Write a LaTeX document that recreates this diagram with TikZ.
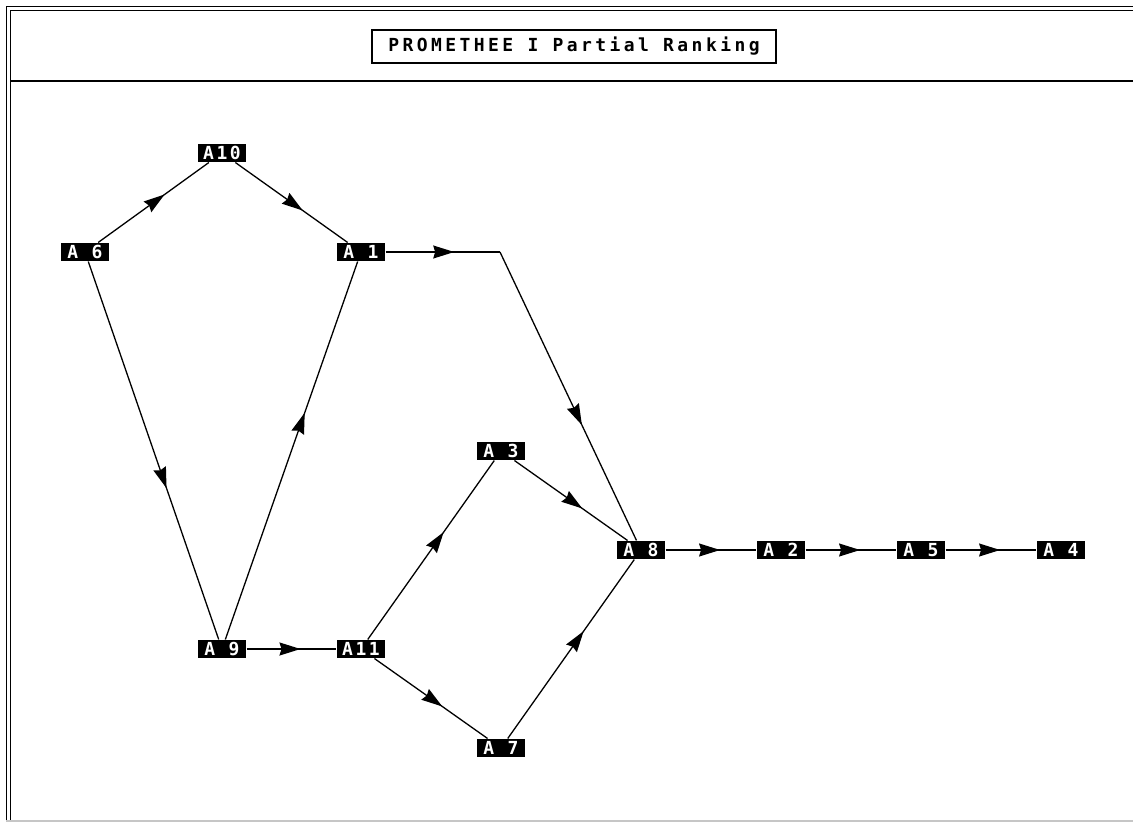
\documentclass[tikz,border=0pt]{standalone}
\usepackage{fontspec}
\usetikzlibrary{arrows.meta, decorations.markings}
\newfontfamily\boxfont[LetterSpace=14]{DejaVu Sans Mono}
\newfontfamily\titlefont[LetterSpace=19]{DejaVu Sans Mono}
\tikzset{
	alt/.style={fill=black, text=white, inner sep=0pt, minimum width=48, minimum height=18,
		font=\boxfont\bfseries\fontsize{18}{18}\selectfont},
	titlebox/.style={draw, line width=1.5, inner sep=0pt, minimum width=404, minimum height=33,
		font=\titlefont\bfseries\fontsize{18}{18}\selectfont},
	flow/.style={line width=1.3, postaction={decorate},
		decoration={markings, mark=at position 0.6 with {\arrow{Stealth[length=21pt, width=13pt, inset=2pt]}}}}
}

\begin{document}
\begin{tikzpicture}[x=1pt, y=-1pt, line width=1.05]

	\useasboundingbox (0,0) rectangle (1133,822);

	% frame of the window
	\draw[line width=1.5] (6.5,822) -- (6.5,6.5) -- (1133,6.5);
	\draw[line width=1.5] (10.5,822) -- (10.5,10.5) -- (1133,10.5);
	\draw[line width=2] (10.5,80.5) -- (1133,80.5);
	\draw[gray!45, line width=1.5] (6,821) -- (1133,821);

	\node[titlebox] (title) at (574,46.5) {PROMETHEE I Partial Ranking};

	% alternatives
	\node[alt] (a10) at (222,153) {A10};
	\node[alt] (a6)  at ( 85,252) {A 6};
	\node[alt] (a1)  at (361,252) {A 1};
	\node[alt] (a3)  at (501,451) {A 3};
	\node[alt] (a8)  at (641,550) {A 8};
	\node[alt] (a2)  at (781,550) {A 2};
	\node[alt] (a5)  at (921,550) {A 5};
	\node[alt] (a4)  at (1061,550) {A 4};
	\node[alt] (a9)  at (222,649) {A 9};
	\node[alt] (a11) at (361,649) {A11};
	\node[alt] (a7)  at (501,748) {A 7};

	\coordinate (bend) at (500,252);

	% outranking relations
	\draw[flow] (a6) -- (a10);
	\draw[flow] (a10) -- (a1);
	\draw[flow] (a6) -- (a9);
	\draw[flow] (a9) -- (a1);
	\draw[flow] (a9) -- (a11);
	\draw[flow] (a1) -- (bend);
	\draw[flow] (bend) -- (a8);
	\draw[flow] (a11) -- (a3);
	\draw[flow] (a11) -- (a7);
	\draw[flow] (a3) -- (a8);
	\draw[flow] (a7) -- (a8);
	\draw[flow] (a8) -- (a2);
	\draw[flow] (a2) -- (a5);
	\draw[flow] (a5) -- (a4);

\end{tikzpicture}
\end{document}
